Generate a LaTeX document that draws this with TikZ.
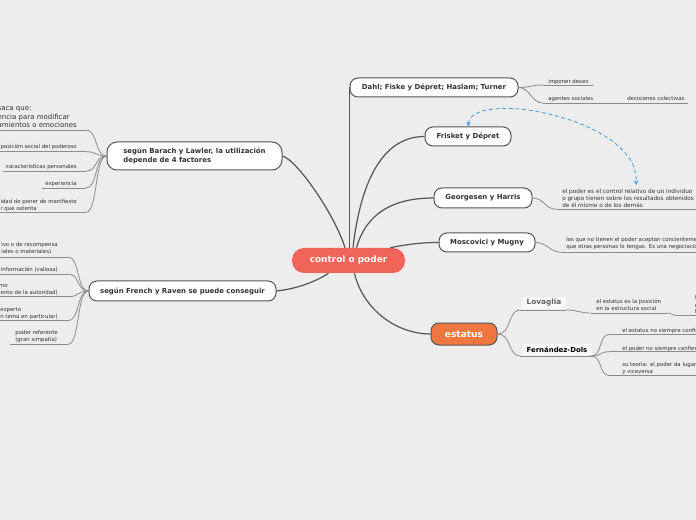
\documentclass[tikz,border=0pt]{standalone}
\usepackage{fontspec}
\setmainfont{DejaVu Sans}
\usetikzlibrary{calc,arrows.meta}
\definecolor{bg}{RGB}{237,237,237}
\definecolor{ctrlc}{RGB}{240,100,90}
\definecolor{estc}{RGB}{240,120,64}
\definecolor{linec}{RGB}{85,85,85}
\definecolor{subc}{RGB}{140,140,140}
\definecolor{txt}{RGB}{51,51,51}
\definecolor{dashc}{RGB}{80,155,230}
\definecolor{boxc}{RGB}{248,248,248}
\definecolor{lovc}{RGB}{100,100,100}
\newcommand\fsmall{\fontsize{4.05}{5.25}\selectfont}
\newcommand\fmid{\fontsize{5.25}{6.2}\selectfont}
\newcommand\fbold{\fontsize{5.2}{6.75}\selectfont\bfseries}
\begin{document}
\begin{tikzpicture}[x=0.75pt,y=-0.75pt,
  main/.style={draw=linec, line width=0.9pt},
  sub/.style={draw=subc, line width=0.6pt},
  topic/.style={draw=linec, fill=white, rounded corners=6pt, line width=0.75pt, font=\fbold, text=txt, inner sep=0pt},
  leaf/.style={inner sep=0pt, font=\fsmall, text=txt, align=left},
  reltip/.tip={Stealth[length=3.5pt,width=3.5pt]}]
\useasboundingbox (0,0) rectangle (696,520);
\fill[bg] (0,0) rectangle (696,520);
\clip (0,0) rectangle (696,520);

% main nodes
\node[fill=ctrlc, rounded corners=9pt, minimum width=84.75pt, minimum height=18.75pt, inner sep=0pt, text=white, font=\fontsize{6.7}{8}\selectfont\bfseries] (ctrl) at (348.5,260.5) {control o poder};
\node[topic, rounded corners=7.5pt, minimum width=131.25pt, minimum height=21pt, align=left] (barach) at (194.5,156) {según Barach y Lawler, la utilización\\depende de 4 factores};
\node[topic, minimum width=140.25pt, minimum height=15pt] (french) at (182.5,291) {según French y Raven se puede conseguir};
\node[topic, minimum width=126pt, minimum height=14.25pt] (dahl) at (434,87.5) {Dahl; Fiske y Dépret; Haslam; Turner};
\node[topic, minimum width=64.5pt, minimum height=14.25pt] (frisket) at (468,136.5) {Frisket y Dépret};
\node[topic, minimum width=73.5pt, minimum height=15pt] (georg) at (483,198) {Georgesen y Harris};
\node[topic, minimum width=72pt, minimum height=14.25pt] (mosco) at (487,242.5) {Moscovici y Mugny};
\node[draw=linec, fill=estc, rounded corners=6pt, line width=0.75pt, minimum width=49.5pt, minimum height=16.5pt, inner sep=0pt, text=white, font=\fontsize{6.8}{8}\selectfont\bfseries] (estatus) at (464,334) {estatus};
\node[fill=boxc, minimum width=33pt, minimum height=9pt, inner sep=0pt, text=lovc, font=\fontsize{5.5}{6}\selectfont\bfseries] (lova) at (544,303) {Lovaglia};
\node[fill=boxc, minimum width=51.75pt, minimum height=8.25pt, inner sep=0pt, text=black, font=\fontsize{5.2}{6}\selectfont\bfseries] (fdols) at (557,349.3) {Fernández-Dols};

% main connectors
\draw[main] (barach.east) .. controls (297,160) and (335,215) .. ($(ctrl.north)+(-3.5,0)$);
\draw[main] (ctrl.north -| dahl.west) -- (dahl.west);
\draw[main] ($(ctrl.north)+(4.5,0)$) .. controls +(8,-70) and +(-40,0) .. (frisket.west);
\draw[main] ($(ctrl.north)+(8,0)$) .. controls +(10,-35) and +(-40,0) .. (georg.west);
\draw[main] ($(ctrl.north east)+(-15,0)$) .. controls +(20,-4) and +(-15,0) .. (mosco.west);
\draw[main] (french.east) .. controls +(20,-2) and +(-12,8) .. ($(ctrl.south)+(-20,0)$);
\draw[main] ($(ctrl.south)+(6,0)$) .. controls +(8,35) and +(-35,0) .. (estatus.west);

% Barach leaves (base = baseline of last line)
\node[leaf, font=\fmid, anchor=base east] (b1) at (77,127.3) {saca que:\\encia para modificar\\amientos o emociones};
\node[leaf, anchor=base east] (b2) at (77,148.5) {posición social del poderoso};
\node[leaf, anchor=base east] (b3) at (77,168.5) {características personales};
\node[leaf, anchor=base east] (b4) at (77,185.8) {experiencia};
\node[leaf, anchor=base east] (b5) at (77,210.2) {idad de poner de manifiesto\\r que ostenta};
\coordinate (b1s) at (-5,130);   \coordinate (b1e) at (86,130);
\coordinate (b2s) at (-5,151.7); \coordinate (b2e) at (86,151.7);
\coordinate (b3s) at (3,171);    \coordinate (b3e) at (86,171);
\coordinate (b4s) at (42,188);   \coordinate (b4e) at (86,188);
\coordinate (b5s) at (-5,212.3); \coordinate (b5e) at (86,212.3);
\foreach \i in {1,...,5}{
  \draw[sub] (b\i s) -- (b\i e);
  \draw[sub] (barach.west) .. controls +(-12,0) and +(12,0) .. (b\i e);
}

% French leaves
\node[leaf, anchor=base east] (f1) at (58,253.5) {ivo o de recompensa\\iales o materiales)};
\node[leaf, anchor=base east] (f2) at (58,271.8) {información (valiosa)};
\node[leaf, anchor=base east] (f3) at (58,294.5) {mo\\iento de la autoridad)};
\node[leaf, anchor=base east] (f4) at (58,318.5) {experto\\n tema en particular)};
\node[leaf, anchor=base east] (f5) at (58,341.8) {poder referente\\(gran simpatía)};
\coordinate (f1s) at (-5,257);   \coordinate (f1e) at (68,257);
\coordinate (f2s) at (-5,274);   \coordinate (f2e) at (68,274);
\coordinate (f3s) at (-5,296.7); \coordinate (f3e) at (68,296.7);
\coordinate (f4s) at (-5,320.7); \coordinate (f4e) at (68,320.7);
\coordinate (f5s) at (10,344.3); \coordinate (f5e) at (68,344.3);
\foreach \i in {1,...,5}{
  \draw[sub] (f\i s) -- (f\i e);
  \draw[sub] (french.west) .. controls +(-12,0) and +(12,0) .. (f\i e);
}

% Dahl leaves
\node[leaf, anchor=base west] (d1) at (548,83.5) {imponer deseo};
\node[leaf, anchor=base west] (d2) at (548,100.2) {agentes sociales};
\node[leaf, anchor=base west] (d3) at (627,100.2) {decisiones colectivas};
\coordinate (d1s) at (543,85);  \coordinate (d1e) at (593,85);
\coordinate (d2s) at (543,103); \coordinate (d2e) at (598,103);
\coordinate (d3s) at (620,103); \coordinate (d3e) at (688,103);
\draw[sub] (d1s) -- (d1e);
\draw[sub] (d2s) -- (d2e);
\draw[sub] (d3s) -- (d3e);
\draw[sub] (dahl.east) .. controls +(12,0) and +(-12,0) .. (d1s);
\draw[sub] (dahl.east) .. controls +(12,0) and +(-12,0) .. (d2s);
\draw[sub] (d2e) -- (d3s);

% Georgesen leaf
\node[leaf, font=\fontsize{4.3}{5.3}\selectfont, anchor=base west] (gh) at (562,208) {el poder es el control relativo de un individuo\\o grupo tienen sobre los resultados obtenidos\\de él mismo o de los demás};
\coordinate (ghs) at (556.7,209.3); \coordinate (ghe) at (705,209.3);
\draw[sub] (ghs) -- (ghe);
\draw[sub] (georg.east) .. controls +(12,0) and +(-12,0) .. (ghs);

% Moscovici leaf
\node[leaf, anchor=base west] (mm) at (566,248.5) {los que no tienen el poder aceptan concientemente\\que otras personas lo tengas. Es una negociación};
\coordinate (mms) at (561.7,252.3); \coordinate (mme) at (705,252.3);
\draw[sub] (mms) -- (mme);
\draw[sub] (mosco.east) .. controls +(12,0) and +(-12,0) .. (mms);

% estatus branch
\coordinate (lvs) at (520,310); \coordinate (lve) at (566,310);
\coordinate (fds) at (520,356); \coordinate (fde) at (591,356);
\draw[sub] (lvs) -- (lve);
\draw[sub] (fds) -- (fde);
\draw[sub] (estatus.east) .. controls +(14,0) and +(-12,0) .. (lvs);
\draw[sub] (estatus.east) .. controls +(14,0) and +(-12,0) .. (fds);

\node[leaf, anchor=base west] (lv1) at (596,310.8) {el estatus es la posición\\en la estructura social};
\coordinate (lv1s) at (591,313); \coordinate (lv1e) at (667,313);
\draw[sub] (lv1s) -- (lv1e);
\draw[sub] (lve) .. controls +(12,0) and +(-12,0) .. (lv1s);
\node[leaf, anchor=base west] (lv2) at (694.5,314) {la\\es\\la};
\coordinate (lv2s) at (677,315.5); \coordinate (lv2e) at (705,315.5);
\draw[sub] (lv2s) -- (lv2e);
\draw[sub] (lv1e) .. controls +(5,0) and +(-5,0) .. (lv2s);

\node[leaf, anchor=base west] (fd1) at (622,332.8) {el estatus no siempre confiere poder};
\node[leaf, anchor=base west] (fd2) at (622,350.2) {el poder no siempre confiere estatus};
\node[leaf, anchor=base west] (fd3) at (622,373.5) {su teoría: el poder da lugar al estatus\\y viceversa};
\coordinate (fd1s) at (610,334.3); \coordinate (fd1e) at (705,334.3);
\coordinate (fd2s) at (610,351.7); \coordinate (fd2e) at (705,351.7);
\coordinate (fd3s) at (610,375.7); \coordinate (fd3e) at (705,375.7);
\foreach \i in {1,2,3}{
  \draw[sub] (fd\i s) -- (fd\i e);
  \draw[sub] (fde) .. controls +(12,0) and +(-12,0) .. (fd\i s);
}

% dashed relation
\coordinate (ghtip) at (636,185);
\draw[dashc, line width=0.6pt, dash pattern=on 3pt off 2pt, {reltip}-{reltip}] (frisket.north) .. controls (472,88) and (640,118) .. (ghtip);
\end{tikzpicture}
\end{document}
